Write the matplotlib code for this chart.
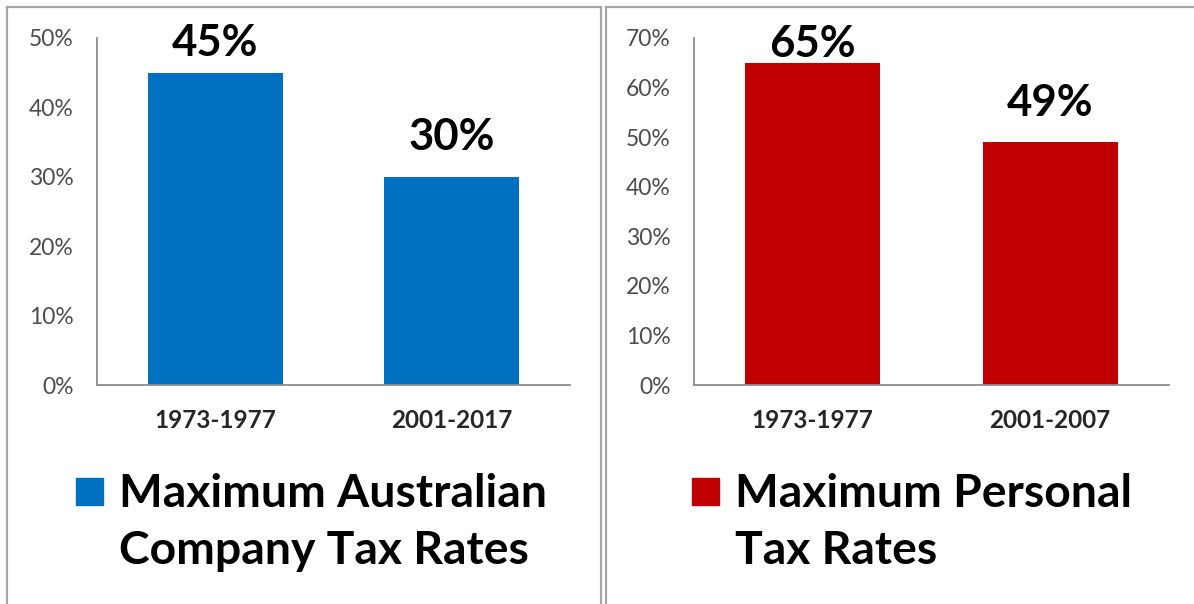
import matplotlib

matplotlib.use("Agg")
import matplotlib.pyplot as plt
from matplotlib.lines import Line2D
from matplotlib.patches import Rectangle
from matplotlib.ticker import PercentFormatter

W, H = 1194, 604

company_periods = ["1973-1977", "2001-2017"]
company_rates = [0.45, 0.30]
company_label = "Maximum Australian\nCompany Tax Rates"

personal_periods = ["1973-1977", "2001-2007"]
personal_rates = [0.65, 0.49]
personal_label = "Maximum Personal\nTax Rates"

plt.rcParams["font.family"] = ["Lato", "DejaVu Sans"]


def px_box(left, top, right, bottom):
    return [left / W, 1 - bottom / H, (right - left) / W, (bottom - top) / H]


def draw_panel(fig, box, periods, rates, ymax, color, label, label_offsets, legend_x):
    ax = fig.add_axes(px_box(*box))
    xs = range(len(periods))
    ax.bar(xs, rates, width=0.57, color=color)
    ax.set_xlim(-0.5, len(periods) - 0.5)
    ax.set_ylim(0, ymax)
    ax.set_yticks([i / 10 for i in range(int(round(ymax * 10)) + 1)])
    ax.yaxis.set_major_formatter(PercentFormatter(1.0, decimals=0))
    ax.set_xticks(list(xs))
    ax.set_xticklabels(periods, fontweight="bold", fontsize=17.5, color="#262626")
    ax.tick_params(axis="y", length=0, pad=17, labelsize=16.5, labelcolor="#4d4d4d")
    ax.tick_params(axis="x", length=0, pad=17)
    for side in ("top", "right"):
        ax.spines[side].set_visible(False)
    for side in ("left", "bottom"):
        ax.spines[side].set_color("#8c8c8c")
        ax.spines[side].set_linewidth(1.3)

    for x, v, off in zip(xs, rates, label_offsets):
        ax.annotate(f"{v:.0%}", (x, v), xytext=(0, off), textcoords="offset points",
                    ha="center", va="baseline", fontsize=31.5, fontweight="bold")

    # legend drawn as a square swatch and two lines of big text
    lx = legend_x
    fig.patches.append(Rectangle((lx / W, 1 - 505 / H), 27 / W, 27 / H,
                                 transform=fig.transFigure, color=color))
    for i, line in enumerate(label.split("\n")):
        fig.text((lx + 43) / W, 1 - (507 + 57 * i) / H, line, fontsize=33.3,
                 fontweight="bold", va="baseline", ha="left")
    return ax


fig = plt.figure(figsize=(W / 100, H / 100), dpi=100)

draw_panel(fig, (97, 38, 570, 385), company_periods, company_rates, 0.5,
           "#0070C0", company_label, [12, 19], 76)
draw_panel(fig, (694, 38, 1169, 385), personal_periods, personal_rates, 0.7,
           "#C00000", personal_label, [4, 19], 692)

# panel frames
frame = dict(transform=fig.transFigure, color="#a6a6a6", lw=1.6)
for x0, x1 in ((7, 601), (606, W + 2)):
    fig.lines.append(Line2D([x0 / W, x1 / W], [1 - 7 / H, 1 - 7 / H], **frame))
    fig.lines.append(Line2D([x0 / W, x0 / W], [0, 1 - 7 / H], **frame))
fig.lines.append(Line2D([601 / W, 601 / W], [0, 1 - 7 / H], **frame))

fig.savefig("out.png", dpi=100)
